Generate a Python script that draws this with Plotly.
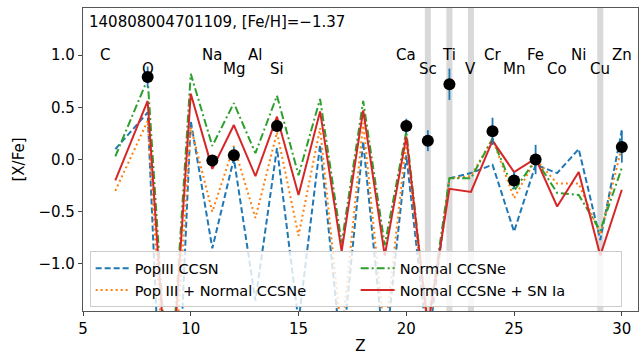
import plotly.graph_objects as go

# ---- data ----
model_z = [6.5, 8, 9, 10, 11, 12, 13, 14, 15, 16, 17, 18, 19, 20, 21, 22, 23, 24, 25, 26, 27, 28, 29, 30]
popiii = [0.10, 0.45, -4.3, 0.37, -0.85, 0.01, -1.35, 0.11, -1.55, 0.14, -1.9, 0.17, -1.9, 0.04,
          -1.8, -0.18, -0.13, -0.05, -0.69, -0.05, -0.13, 0.10, -0.77, 0.28]
popiii_normal = [-0.30, 0.37, -2.8, 0.31, -0.50, 0.13, -0.56, 0.26, -0.73, 0.30, -1.7, 0.35, -1.7, 0.18,
                 -1.7, -0.18, -0.16, 0.20, -0.37, 0.00, -0.23, -0.23, -0.72, 0.12]
normal = [0.03, 0.77, -2.4, 0.82, 0.13, 0.54, 0.06, 0.61, -0.15, 0.58, -0.80, 0.56, -0.82, 0.27,
          -1.6, -0.18, -0.18, 0.20, -0.30, 0.00, -0.32, -0.34, -0.68, -0.08]
normal_ia = [-0.20, 0.56, -2.5, 0.63, -0.09, 0.33, -0.16, 0.41, -0.34, 0.46, -0.88, 0.47, -0.92, 0.22,
             -1.6, -0.28, -0.31, 0.18, -0.12, 0.01, -0.45, -0.12, -0.92, -0.29]

obs_z = [8, 11, 12, 14, 20, 21, 22, 24, 25, 26, 30]
obs_val = [0.79, -0.01, 0.04, 0.32, 0.32, 0.18, 0.72, 0.27, -0.20, 0.00, 0.12]
obs_err = [0.10, 0.05, 0.08, 0.05, 0.07, 0.10, 0.15, 0.13, 0.08, 0.14, 0.15]

elem_names = ["C", "O", "Na", "Mg", "Al", "Si", "Ca", "Sc", "Ti", "V", "Cr", "Mn", "Fe", "Co", "Ni", "Cu", "Zn"]
elem_z = [6, 8, 11, 12, 13, 14, 20, 21, 22, 23, 24, 25, 26, 27, 28, 29, 30]
band_z = [21, 22, 23, 29]

star_label = "140808004701109, [Fe/H]=\u22121.37"

FONT = "DejaVu Sans"

fig = go.Figure()

series = [
    ("PopIII CCSN", popiii, "#1f77b4", "6px,3px", 1),
    ("Pop III + Normal CCSNe", popiii_normal, "#ff7f0e", "2px,3px", 3),
    ("Normal CCSNe", normal, "#2ca02c", "8px,3px,2px,3px", 2),
    ("Normal CCSNe + SN Ia", normal_ia, "#d62728", "solid", 4),
]
for name, vals, col, dash, rank in series:
    fig.add_trace(go.Scatter(x=model_z, y=vals, mode="lines", name=name,
                             line=dict(color=col, width=2, dash=dash),
                             legendrank=rank))

fig.add_trace(go.Scatter(x=obs_z, y=obs_val, mode="markers", showlegend=False,
                         marker=dict(color="black", size=12),
                         error_y=dict(type="data", array=obs_err, color="#1f77b4",
                                      thickness=1.8, width=0)))

for z in band_z:
    fig.add_shape(type="rect", xref="x", yref="paper", x0=z - 0.14, x1=z + 0.14, y0=0, y1=1,
                  fillcolor="rgba(128,128,128,0.3)", line=dict(width=0), layer="below")

for i, (nm, z) in enumerate(zip(elem_names, elem_z)):
    fig.add_annotation(x=z, y=1.0 if i % 2 == 0 else 0.865, text=nm, showarrow=False,
                       xanchor="center", yanchor="middle",
                       font=dict(family=FONT, size=15, color="black"))

fig.add_annotation(xref="paper", yref="paper", x=0.008, y=0.954, text=star_label,
                   showarrow=False, xanchor="left", yanchor="middle",
                   font=dict(family=FONT, size=15, color="black"))

axis_common = dict(showgrid=False, zeroline=False, showline=True, mirror=True,
                   linecolor="#555", linewidth=1.2, ticks="outside", ticklen=4,
                   tickcolor="#444", tickfont=dict(family=FONT, size=15, color="black"))

fig.update_layout(
    width=641, height=355,
    margin=dict(l=83, r=2, t=8, b=42),
    paper_bgcolor="white", plot_bgcolor="white",
    font=dict(family=FONT, size=15, color="black"),
    xaxis=dict(range=[5, 30.75], tickvals=[5, 10, 15, 20, 25, 30],
               title=dict(text="Z", standoff=4, font=dict(family=FONT, size=15)), **axis_common),
    yaxis=dict(range=[-1.45, 1.45], tickvals=[-1.0, -0.5, 0.0, 0.5, 1.0], tickformat=".1f",
               title=dict(text="[X/Fe]", standoff=10, font=dict(family=FONT, size=15)), **axis_common),
    legend=dict(orientation="h", x=0.012, y=0.197, xanchor="left", yanchor="top",
                entrywidth=216, itemwidth=34, bgcolor="rgba(255,255,255,0.8)", bordercolor="#cccccc",
                borderwidth=1, font=dict(family=FONT, size=14.5), tracegroupgap=0,
                traceorder="normal"),
    showlegend=True,
)

fig.write_html("out.html")
